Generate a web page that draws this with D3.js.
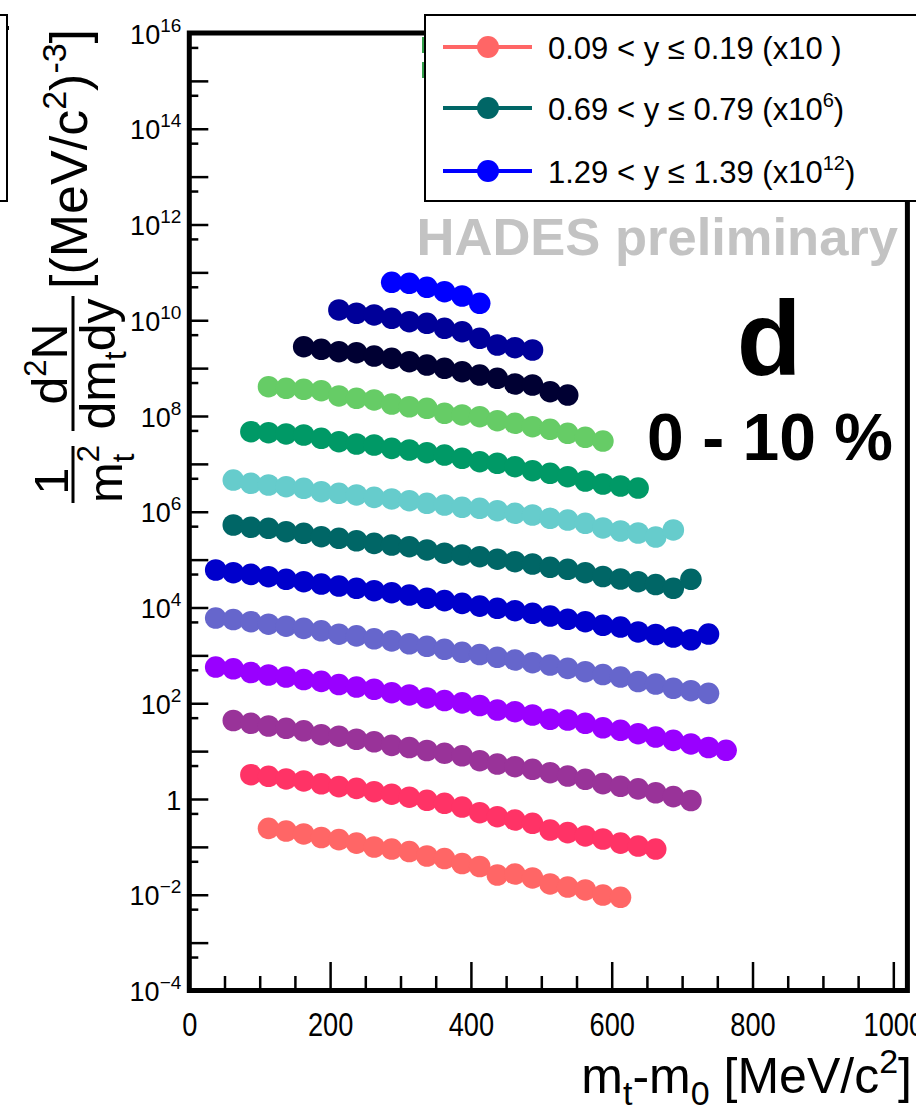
<!DOCTYPE html>
<html>
<head>
<meta charset="utf-8">
<script src="https://cdn.jsdelivr.net/npm/d3@7"></script>
<style>
  body { margin: 0; background: #fff; }
  svg { display: block; font-family: "Liberation Sans", Arial, Helvetica, sans-serif; }
  .tick line { stroke: #000; stroke-width: 2.5; }
  .tick text { fill: #000; }
</style>
</head>
<body>
<script>
// mt - m0 bin centres [MeV/c^2]
var mtBins = [37.5, 62.5, 87.5, 112.5, 137.5, 162.5, 187.5, 212.5, 237.5, 262.5,
              287.5, 312.5, 337.5, 362.5, 387.5, 412.5, 437.5, 462.5, 487.5, 512.5,
              537.5, 562.5, 587.5, 612.5, 637.5, 662.5, 687.5, 712.5, 737.5, 762.5];

// rapidity slices, lowest first
var rapLabels = ["0.09 < y \u2264 0.19", "0.19 < y \u2264 0.29", "0.29 < y \u2264 0.39",
                 "0.39 < y \u2264 0.49", "0.49 < y \u2264 0.59", "0.59 < y \u2264 0.69",
                 "0.69 < y \u2264 0.79", "0.79 < y \u2264 0.89", "0.89 < y \u2264 0.99",
                 "0.99 < y \u2264 1.09", "1.09 < y \u2264 1.19", "1.19 < y \u2264 1.29",
                 "1.29 < y \u2264 1.39"];
var rapColors = ["#ff6666", "#ff3366", "#993399", "#9900ff", "#6666cc", "#0000cc", "#006666",
                 "#66cccc", "#009966", "#66cc66", "#000033", "#000099", "#0000ff"];
var firstBin = [3, 2, 1, 0, 0, 0, 1, 1, 2, 3, 5, 7, 10];

// scaled yields, one array per slice
var dN_009 = [0.244, 0.214, 0.186, 0.157, 0.142, 0.120, 0.0994, 0.0902, 0.0800, 0.0645, 0.0571,
              0.0449, 0.0389, 0.0258, 0.0271, 0.0224, 0.0168, 0.0145, 0.0126, 0.00987, 0.00884];
var dN_019 = [3.22, 2.98, 2.62, 2.38, 2.08, 1.81, 1.67, 1.42, 1.26, 1.09, 0.939, 0.813, 0.68,
              0.517, 0.427, 0.364, 0.311, 0.225, 0.198, 0.169, 0.146, 0.120, 0.104, 0.0902];
var dN_029 = [43.6, 38.1, 33.5, 30.0, 26.6, 22.0, 20.5, 17.7, 15.7, 13.2, 11.9, 10.3, 9.00, 7.98,
              6.31, 5.38, 4.73, 4.17, 3.54, 3.02, 2.58, 2.09, 1.84, 1.63, 1.35, 1.12, 0.930];
var dN_039 = [571, 524, 438, 389, 353, 313, 287, 246, 218, 196, 166, 149, 129, 114, 102, 89.7,
              72.2, 66.6, 56.8, 46.2, 44.7, 38.1, 30.7, 27.2, 23.1, 19.7, 16.8, 14.1, 11.9, 10.4];
var dN_049 = [6030, 5610, 5050, 4480, 4070, 3670, 3260, 2770, 2560, 2220, 2010, 1750, 1550, 1340,
              1160, 1040, 911, 800, 702, 629, 536, 456, 398, 353, 284, 252, 205, 183, 161];
var dN_059 = [6.07e4, 5.33e4, 4.93e4, 4.40e4, 3.88e4, 3.46e4, 3.09e4, 2.81e4, 2.52e4, 2.24e4,
              2.04e4, 1.82e4, 1.56e4, 1.39e4, 1.22e4, 1.07e4, 9620, 8570, 7560, 6640, 5670,
              5050, 4250, 3910, 3080, 2730, 2420, 2120, 2790];
var dN_069 = [5.29e5, 4.73e5, 4.51e5, 3.83e5, 3.55e5, 3.01e5, 2.79e5, 2.48e5, 2.19e5, 2.02e5,
              1.86e5, 1.59e5, 1.36e5, 1.25e5, 1.15e5, 1.02e5, 9.05e4, 8.10e4, 6.91e4, 6.28e4,
              5.33e4, 4.44e4, 3.94e4, 3.46e4, 3.02e4, 2.52e4, 3.88e4];
var dN_079 = [4.60e6, 3.93e6, 3.62e6, 3.34e6, 3.09e6, 2.62e6, 2.43e6, 2.24e6, 2.00e6, 1.85e6,
              1.70e6, 1.50e6, 1.38e6, 1.24e6, 1.18e6, 1.05e6, 9.28e5, 8.55e5, 7.30e5, 6.72e5,
              5.74e5, 4.58e5, 3.96e5, 3.60e5, 2.97e5, 4.16e5];
var dN_089 = [4.70e7, 4.48e7, 4.21e7, 4.01e7, 3.42e7, 2.90e7, 2.60e7, 2.48e7, 2.11e7, 1.95e7,
              1.71e7, 1.53e7, 1.31e7, 1.11e7, 1.03e7, 8.73e6, 7.20e6, 6.35e6, 5.40e6, 4.39e6,
              3.80e6, 3.45e6, 3.13e6];
var dN_099 = [4.09e8, 3.79e8, 3.61e8, 3.38e8, 2.62e8, 2.34e8, 2.16e8, 1.78e8, 1.56e8, 1.45e8,
              1.14e8, 1.05e8, 9.67e7, 7.98e7, 7.04e7, 5.98e7, 5.27e7, 4.35e7, 3.59e7, 3.00e7];
var dN_109 = [2.80e9, 2.47e9, 2.20e9, 2.10e9, 1.79e9, 1.60e9, 1.36e9, 1.16e9, 9.92e8, 8.42e8,
              7.18e8, 6.13e8, 4.66e8, 4.44e8, 3.22e8, 2.74e8];
var dN_119 = [1.64e10, 1.40e10, 1.29e10, 1.10e10, 9.32e9, 8.64e9, 6.79e9, 5.76e9, 4.20e9,
              3.04e9, 2.67e9, 2.39e9];
var dN_129 = [6.20e10, 5.91e10, 4.88e10, 3.95e10, 3.21e10, 2.26e10];

var yields = [dN_009, dN_019, dN_029, dN_039, dN_049, dN_059, dN_069,
              dN_079, dN_089, dN_099, dN_109, dN_119, dN_129];

// legend shows only three of the slices
var legendSlices = [0, 6, 12];
var legendScale = ["10", "10^6", "10^12"];

var xTicks = [0, 200, 400, 600, 800, 1000];
var xMinor = d3.range(50, 1020, 50).filter(function(v) { return v % 200; });
var yMajor = d3.range(-4, 17).map(function(e) { return Math.pow(10, e); });
var yMinor = d3.range(-4, 16).map(function(e) { return 5 * Math.pow(10, e); });

var W = 916, H = 1117;
var x = d3.scaleLinear().domain([0, 1020]).range([189.3, 907.4]);
var y = d3.scaleLog().domain([1e-4, 1e16]).range([990.5, 33]);

var svg = d3.select("body").append("svg")
    .attr("width", W)
    .attr("height", H);

svg.append("rect").attr("width", W).attr("height", H).attr("fill", "#fff");

// background legends peeking out from behind
svg.append("rect")
    .attr("x", -20).attr("y", 15).attr("width", 27).attr("height", 186)
    .attr("fill", "#fff").attr("stroke", "#000").attr("stroke-width", 2);
svg.append("line")
    .attr("x1", 7).attr("x2", 9).attr("y1", 28).attr("y2", 28)
    .attr("stroke", "#000").attr("stroke-width", 4);

// axes
var gx = svg.append("g").attr("transform", "translate(0,990)");
gx.call(d3.axisBottom(x).tickValues(xMinor).tickSizeInner(-14).tickSizeOuter(0).tickFormat(""));
gx.append("g").call(d3.axisBottom(x).tickValues(xTicks).tickSizeInner(-28).tickSizeOuter(0)
    .tickFormat(d3.format("d")));
gx.selectAll(".domain").remove();
gx.selectAll(".tick text")
    .attr("font-family", null)
    .attr("font-size", 34)
    .attr("y", 46).attr("dy", null)
    .attr("transform", "scale(0.8,1)");

var gy = svg.append("g").attr("transform", "translate(189.3,0)");
gy.call(d3.axisLeft(y).tickValues(yMinor).tickSizeInner(-9).tickSizeOuter(0).tickFormat(""));
gy.append("g").call(d3.axisLeft(y).tickValues(yMajor).tickSizeInner(-19).tickSizeOuter(0)
    .tickPadding(8).tickFormat(""));
gy.selectAll(".domain").remove();
gy.selectAll(".tick text").filter(function(d) { return yMajor.indexOf(d) >= 0; })
    .attr("font-family", null)
    .attr("font-size", 27)
    .attr("dy", 10)
    .each(function(d) {
      var e = Math.round(Math.log10(d));
      var t = d3.select(this);
      if (e % 2) return;
      if (e === 0) { t.text("1"); return; }
      t.append("tspan").text("10");
      t.append("tspan").attr("dy", -12).attr("font-size", 19)
          .text(e < 0 ? "\u2212" + (-e) : e);
    });

// frame
svg.append("rect")
    .attr("x", x(0)).attr("y", y(1e16))
    .attr("width", x(1020) - x(0)).attr("height", y(1e-4) - y(1e16))
    .attr("fill", "none").attr("stroke", "#000").attr("stroke-width", 5);

// spectra
var line = d3.line()
    .x(function(d) { return x(d.mt); })
    .y(function(d) { return y(d.v); });

var series = yields.map(function(vals, i) {
  return {
    color: rapColors[i],
    pts: vals.map(function(v, j) { return {mt: mtBins[firstBin[i] + j], v: v}; })
  };
});

var sg = svg.selectAll(".spectrum")
    .data(series)
  .enter().append("g")
    .attr("class", "spectrum");

sg.append("path")
    .attr("d", function(d) { return line(d.pts); })
    .attr("fill", "none")
    .attr("stroke", function(d) { return d.color; })
    .attr("stroke-width", 4);

sg.selectAll("circle")
    .data(function(d) { return d.pts.map(function(p) { p.color = d.color; return p; }); })
  .enter().append("circle")
    .attr("cx", function(d) { return x(d.mt); })
    .attr("cy", function(d) { return y(d.v); })
    .attr("r", 10.8)
    .attr("fill", function(d) { return d.color; });

// labels
svg.append("text")
    .attr("x", 898).attr("y", 255)
    .attr("text-anchor", "end")
    .attr("font-size", 52.5).attr("font-weight", "bold")
    .attr("fill", "#c3c3c3")
    .text("HADES preliminary");

svg.append("text")
    .attr("x", 769).attr("y", 375)
    .attr("text-anchor", "middle")
    .attr("font-size", 106).attr("font-weight", "bold")
    .text("d");

svg.append("text")
    .attr("x", 770).attr("y", 460)
    .attr("text-anchor", "middle")
    .attr("font-size", 66).attr("font-weight", "bold")
    .text("0 - 10 %");

// helper for sub/superscripts: parts are [text, dy, fontSize, dx]
function rich(text, parts) {
  parts.forEach(function(p) {
    var s = text.append("tspan").text(p[0]);
    if (p[1]) s.attr("dy", p[1]);
    if (p[2]) s.attr("font-size", p[2]);
    if (p[3]) s.attr("dx", p[3]);
  });
  return text;
}

// x title
rich(svg.append("text")
    .attr("x", 912).attr("y", 1093)
    .attr("text-anchor", "end")
    .attr("font-size", 50), [
  ["m"], ["t", 12, 34], ["-m", -12], ["0", 12, 34], [" [MeV/c", -12], ["2", -20, 34], ["]", 20]
]);

// y title, rotated
var yt = svg.append("g").attr("transform", "translate(73,503) rotate(-90)");
yt.append("text").attr("x", 22).attr("y", -5).attr("text-anchor", "middle")
    .attr("font-size", 49).text("1");
yt.append("line").attr("x1", 0).attr("x2", 57).attr("y1", 0).attr("y2", 0)
    .attr("stroke", "#000").attr("stroke-width", 3);
rich(yt.append("text").attr("x", 0).attr("y", 49).attr("font-size", 49), [
  ["m"], ["2", -23, 31], ["t", 35, 31, -17.2]
]);
yt.append("line").attr("x1", 72).attr("x2", 207).attr("y1", 0).attr("y2", 0)
    .attr("stroke", "#000").attr("stroke-width", 3);
rich(yt.append("text").attr("x", 139).attr("y", -6).attr("text-anchor", "middle")
    .attr("font-size", 50), [
  ["d"], ["2", -21, 31], ["N", 21]
]);
rich(yt.append("text").attr("x", 139).attr("y", 42).attr("text-anchor", "middle")
    .attr("font-size", 50), [
  ["dm"], ["t", 11, 31], ["dy", -11]
]);
rich(yt.append("text").attr("x", 214).attr("y", 14).attr("font-size", 52), [
  ["[(MeV/c"], ["2", -21, 34], [")", 21], ["-3", -21, 34], ["]", 21]
]);

// legend
var lg = svg.append("g");
lg.append("line")
    .attr("x1", 423).attr("x2", 423).attr("y1", 37).attr("y2", 53)
    .attr("stroke", "#33a04a").attr("stroke-width", 2);
lg.append("line")
    .attr("x1", 423).attr("x2", 423).attr("y1", 62).attr("y2", 78)
    .attr("stroke", "#33a04a").attr("stroke-width", 2);
lg.append("rect")
    .attr("x", 425).attr("y", 15).attr("width", 520).attr("height", 186)
    .attr("fill", "#fff").attr("stroke", "#000").attr("stroke-width", 2);

var rowY = [47, 108, 171];
var le = lg.selectAll(".entry")
    .data(legendSlices)
  .enter().append("g")
    .attr("class", "entry")
    .attr("transform", function(d, i) { return "translate(0," + rowY[i] + ")"; });

le.append("line")
    .attr("x1", 443).attr("x2", 532)
    .attr("stroke", function(d) { return rapColors[d]; })
    .attr("stroke-width", 4);
le.append("circle")
    .attr("cx", 488).attr("r", 11)
    .attr("fill", function(d) { return rapColors[d]; });
le.append("text")
    .attr("x", 548).attr("y", 12)
    .attr("font-size", 31)
    .each(function(d, i) {
      var parts = legendScale[i].split("^");
      var t = d3.select(this);
      t.append("tspan").text(rapLabels[d] + " (x" + parts[0]);
      if (parts[1]) {
        t.append("tspan").attr("dy", -13).attr("font-size", 20).text(parts[1]);
        t.append("tspan").attr("dy", 13).text(")");
      } else {
        t.append("tspan").text(" )");
      }
    });
</script>
</body>
</html>
